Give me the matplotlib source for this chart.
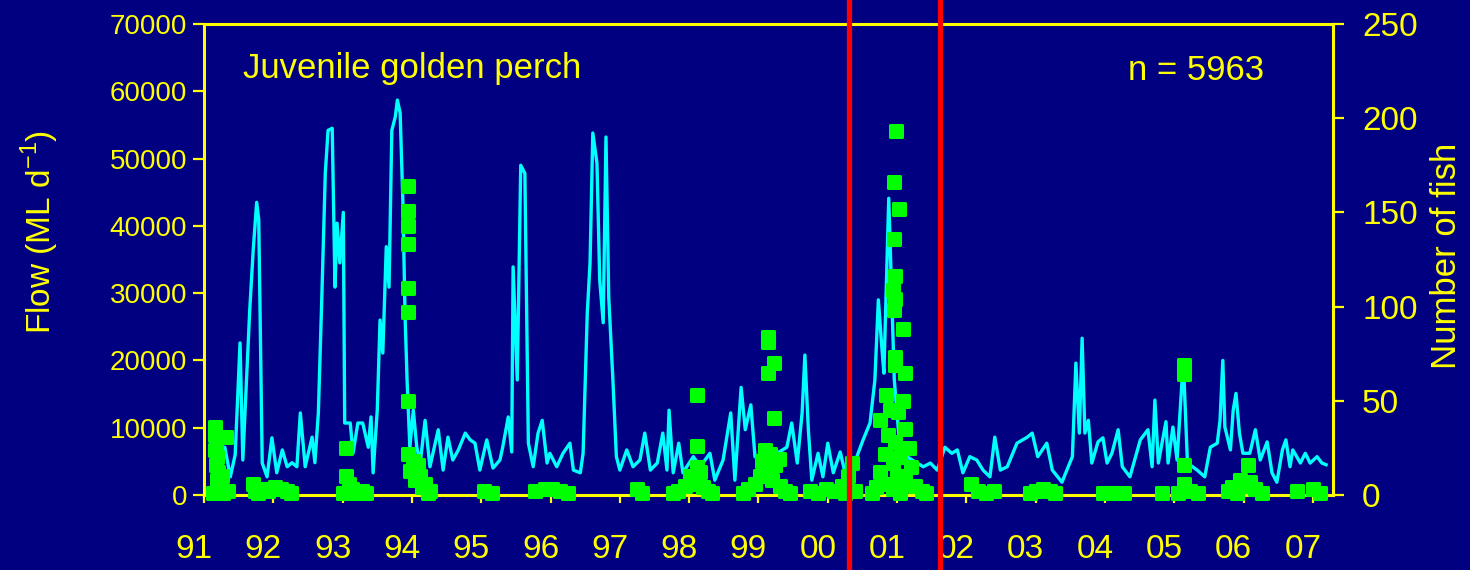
import matplotlib
matplotlib.use("Agg")
import matplotlib.pyplot as plt
from matplotlib.markers import MarkerStyle
from matplotlib.transforms import ScaledTranslation

plt.rcParams["font.family"] = ["Liberation Sans", "DejaVu Sans"]
plt.rcParams["mathtext.fontset"] = "custom"
plt.rcParams["mathtext.rm"] = "Liberation Sans"

# ---- data ----
flow_year = [1991.09, 1991.20, 1991.30, 1991.38, 1991.45, 1991.52, 1991.56, 1991.66, 1991.71, 1991.76,
             1991.79, 1991.84, 1991.91, 1991.98, 1992.05, 1992.13, 1992.20, 1992.27, 1992.34, 1992.39,
             1992.46, 1992.56, 1992.60, 1992.65, 1992.70, 1992.75, 1992.79, 1992.85, 1992.89, 1992.92,
             1992.96, 1993.01, 1993.03, 1993.11, 1993.15, 1993.22, 1993.29, 1993.37, 1993.41, 1993.44,
             1993.50, 1993.54, 1993.58, 1993.63, 1993.67, 1993.71, 1993.76, 1993.79, 1993.83, 1993.87,
             1993.90, 1993.93, 1993.97, 1994.02, 1994.07, 1994.12, 1994.19, 1994.26, 1994.38, 1994.45,
             1994.52, 1994.59, 1994.67, 1994.77, 1994.84, 1994.91, 1994.98, 1995.08, 1995.17, 1995.27,
             1995.31, 1995.39, 1995.44, 1995.46, 1995.52, 1995.57, 1995.63, 1995.68, 1995.75, 1995.82,
             1995.88, 1995.95, 1995.99, 1996.09, 1996.18, 1996.28, 1996.33, 1996.43, 1996.47, 1996.53,
             1996.57, 1996.61, 1996.67, 1996.71, 1996.76, 1996.80, 1996.84, 1996.90, 1996.95, 1997.00,
             1997.10, 1997.19, 1997.29, 1997.36, 1997.44, 1997.54, 1997.62, 1997.68, 1997.71, 1997.77,
             1997.85, 1997.91, 1998.06, 1998.16, 1998.30, 1998.37, 1998.49, 1998.60, 1998.66, 1998.75,
             1998.81, 1998.89, 1998.95, 1999.02, 1999.27, 1999.41, 1999.48, 1999.56, 1999.63, 1999.67,
             1999.72, 1999.77, 1999.86, 1999.93, 2000.00, 2000.08, 2000.18, 2000.25, 2000.42, 2000.51,
             2000.61, 2000.68, 2000.73, 2000.78, 2000.81, 2000.86, 2000.88, 2000.93, 2000.96, 2001.04,
             2001.14, 2001.29, 2001.38, 2001.48, 2001.58, 2001.69, 2001.79, 2001.87, 2001.95, 2002.05,
             2002.15, 2002.24, 2002.34, 2002.41, 2002.49, 2002.59, 2002.73, 2002.88, 2002.95, 2003.03,
             2003.16, 2003.24, 2003.38, 2003.45, 2003.53, 2003.58, 2003.63, 2003.67, 2003.71, 2003.76,
             2003.81, 2003.90, 2003.97, 2004.03, 2004.10, 2004.19, 2004.25, 2004.36, 2004.51, 2004.62,
             2004.68, 2004.72, 2004.77, 2004.88, 2004.91, 2004.98, 2005.04, 2005.13, 2005.19, 2005.33,
             2005.44, 2005.52, 2005.62, 2005.66, 2005.70, 2005.73, 2005.81, 2005.85, 2005.89, 2005.94,
             2005.99, 2006.09, 2006.17, 2006.24, 2006.34, 2006.41, 2006.48, 2006.56, 2006.61, 2006.67,
             2006.71, 2006.82, 2006.89, 2006.96, 2007.06, 2007.13, 2007.19]
flow_ml = [6000, 3500, 7100, 2700, 6000, 22600, 5200, 27500, 36400, 43500,
           40900, 4750, 2700, 8500, 3300, 6700, 4200, 4800, 4200, 12200,
           4200, 8600, 4800, 12200, 29400, 47800, 54200, 54500, 30900, 40400,
           34500, 42000, 10700, 10700, 6200, 10700, 10700, 7100, 11600, 3300,
           12600, 26000, 21100, 36900, 30900, 54200, 56200, 58700, 56800, 43400,
           27000, 17100, 7100, 12600, 7100, 4750, 11100, 4200, 9700, 3700,
           8600, 5200, 6700, 9200, 8200, 7700, 3700, 8200, 4000, 5200,
           7100, 11600, 6400, 33900, 17100, 49000, 47800, 7700, 4200, 9200,
           11100, 4750, 6200, 4200, 6200, 7700, 3700, 3300, 6200, 27000,
           34500, 53800, 49300, 31900, 25600, 53200, 29400, 17100, 5700, 3700,
           6700, 4200, 5200, 9200, 3700, 4750, 9200, 3700, 12600, 3300,
           7700, 3300, 5700, 4200, 6200, 2200, 5200, 12200, 2200, 16000,
           9700, 13400, 5700, 5200, 6200, 7100, 10700, 4750, 12200, 20800,
           9700, 2200, 6200, 2700, 7700, 3300, 6400, 3300, 5700, 8200,
           10700, 17100, 29000, 22000, 18100, 36400, 44100, 27000, 17100, 7100,
           5700, 4750, 4200, 4750, 3700, 7100, 6200, 6700, 3300, 5700,
           5200, 3700, 2700, 8600, 3700, 4200, 7700, 8600, 9200, 5700,
           7700, 3700, 1900, 3700, 5700, 19600, 9200, 23300, 9200, 11100,
           4750, 7900, 8500, 4750, 6200, 9700, 4200, 2700, 8200, 9700,
           4200, 14100, 4750, 10900, 4750, 10100, 5200, 20000, 4750, 3700,
           2700, 7100, 7700, 11100, 20000, 10100, 6700, 12600, 15100, 9200,
           6200, 6200, 9700, 5200, 7900, 3300, 1900, 6700, 8200, 4200,
           6700, 4750, 6200, 4750, 5700, 4750, 4500]

fish_year = [1991.13, 1991.16, 1991.16, 1991.17, 1991.16, 1991.19, 1991.17, 1991.20, 1991.19, 1991.22,
             1991.23, 1991.32, 1991.26, 1991.27, 1991.35,
             1991.71, 1991.74, 1991.84, 1991.92, 1992.02, 1992.11, 1992.20, 1992.26, 1991.78,
             1993.05, 1993.05, 1993.09, 1993.14, 1993.19, 1993.28, 1993.34, 1993.01,
             1993.94, 1993.94, 1993.94, 1993.94, 1993.94, 1993.94, 1993.94,
             1993.94, 1994.02, 1994.09, 1993.97, 1994.12, 1994.04, 1994.19, 1994.15, 1994.26, 1994.23,
             1995.04, 1995.16,
             1995.78, 1995.92, 1996.02, 1996.14, 1996.25,
             1997.25, 1997.32,
             1998.11, 1998.11, 1998.11, 1998.01, 1998.16, 1997.94, 1998.09, 1998.20, 1998.27, 1997.84,
             1997.77, 1998.33,
             1999.14, 1999.14, 1999.23, 1999.14, 1999.23, 1999.10, 1999.17, 1999.05, 1999.24, 1999.14,
             1999.02, 1999.20, 1998.95, 1999.31, 1998.85, 1999.38, 1998.78, 1999.46, 1999.30,
             1999.74, 1999.86, 1999.98, 2000.09, 2000.21, 2000.29, 2000.35, 2000.39, 2000.25,
             2000.99, 2000.96, 2001.03, 2000.96, 2000.97, 2000.94, 2000.97, 2000.96, 2001.09, 2000.97,
             2000.97, 2001.12,
             2000.84, 2001.09, 2000.90, 2001.01, 2000.75, 2001.12, 2000.87, 2000.97, 2001.17, 2000.83,
             2001.04, 2000.94, 2001.20, 2000.75, 2001.00, 2001.12, 2000.87, 2000.70, 2001.26, 2001.36,
             2000.64, 2001.04, 2001.42, 2000.94,
             2002.07, 2002.17, 2002.28, 2002.40,
             2002.92, 2003.01, 2003.11, 2003.21, 2003.28,
             2003.97, 2004.07, 2004.17, 2004.28,
             2004.82, 2005.14, 2005.14, 2005.14, 2005.14, 2005.05, 2005.23, 2005.34,
             2006.07, 2005.95, 2006.09, 2005.83, 2006.02, 2006.17, 2006.27, 2005.91, 2005.78,
             2006.77, 2007.00, 2007.10]
fish_n = [1, 36, 32, 28, 24, 20, 16, 12, 8, 4,
          2, 31, 10, 1, 2,
          6, 2, 3, 2, 4, 3, 2, 1, 1,
          25, 10, 6, 3, 1, 2, 1, 1,
          164, 151, 143, 133, 110, 97, 50,
          22, 18, 16, 13, 10, 8, 6, 4, 2, 1,
          2, 1,
          2, 3, 3, 2, 1,
          3, 1,
          53, 26, 15, 10, 12, 5, 6, 4, 2, 2,
          1, 1,
          84, 81, 70, 65, 41, 24, 22, 18, 16, 14,
          10, 8, 6, 5, 3, 2, 1, 1, 19,
          2, 1, 3, 2, 5, 10, 17, 2, 1,
          193, 166, 152, 136, 116, 109, 104, 98, 88, 73,
          69, 65,
          53, 50, 45, 44, 40, 35, 32, 28, 25, 22,
          20, 17, 15, 12, 10, 8, 6, 4, 5, 2,
          1, 1, 1, 3,
          6, 2, 1, 2,
          1, 2, 3, 2, 1,
          1, 1, 1, 1,
          1, 69, 64, 16, 6, 1, 2, 1,
          16, 8, 7, 4, 5, 3, 1, 1, 2,
          2, 3, 1]

year_ticks = list(range(1991, 2008))
year_labels = ["91", "92", "93", "94", "95", "96", "97", "98", "99", "00",
               "01", "02", "03", "04", "05", "06", "07"]
period_lines = [2000.31, 2001.62]

NAVY = "#000080"
YELLOW = "#FFFF00"

fig = plt.figure(figsize=(14.7, 5.7), dpi=100, facecolor=NAVY)
ax = fig.add_axes([204 / 1470, 1 - 495 / 570, (1333 - 204) / 1470, (495 - 24) / 570])
ax.set_facecolor(NAVY)
ax2 = ax.twinx()

ax.plot(flow_year, flow_ml, color="#00FFFF", lw=2.4, zorder=2, solid_joinstyle="round")
ax2.plot(fish_year, fish_n, ls="none", marker=MarkerStyle("s", joinstyle="round"), ms=8.5, mew=2.2,
         color="#00FF00", mec="#00FF00", clip_on=False, zorder=3)

ax.set_xlim(1991, 2007.29)
ax.set_ylim(0, 70000)
ax2.set_ylim(0, 250)
ax.set_yticks(range(0, 70001, 10000))
ax2.set_yticks(range(0, 251, 50))
ax.set_xticks(year_ticks)
ax.set_xticklabels(year_labels)

for a in (ax, ax2):
    for s in a.spines.values():
        s.set_color(YELLOW)
        s.set_linewidth(2.2)
ax2.spines["left"].set_visible(False)
ax2.spines["bottom"].set_visible(False)
ax2.spines["top"].set_visible(False)

# left labels are narrower in the original, so a smaller size
ax.tick_params(axis="y", colors=YELLOW, labelsize=20, length=8, width=1.6, pad=4)
ax.tick_params(axis="x", colors=YELLOW, labelsize=24, length=6, width=1.6, pad=22)
ax2.tick_params(axis="y", colors=YELLOW, labelsize=24, length=8, width=1.6, pad=13)
for lab in ax.get_xticklabels():
    lab.set_transform(lab.get_transform() + ScaledTranslation(-10 / 100, 0, fig.dpi_scale_trans))

# red period markers over the full height
for yr in period_lines:
    ax2.axvline(yr, ymin=-0.2, ymax=1.2, color="#FF0000", lw=3.8, clip_on=False, zorder=5)

fig.text(243 / 1470, 1 - 78 / 570, "Juvenile golden perch", color=YELLOW, fontsize=25,
         ha="left", va="baseline")
fig.text(1128 / 1470, 1 - 80 / 570, "n = 5963", color=YELLOW, fontsize=25,
         ha="left", va="baseline")
fig.text(40 / 1470, 1 - 232 / 570, "Flow (ML d$^{-1}$)", color=YELLOW, fontsize=24,
         rotation=90, ha="center", va="center")
fig.text(1447 / 1470, 1 - 256 / 570, "Number of fish", color=YELLOW, fontsize=25,
         rotation=90, ha="center", va="center")

fig.savefig("out.png", dpi=100, facecolor=NAVY)
